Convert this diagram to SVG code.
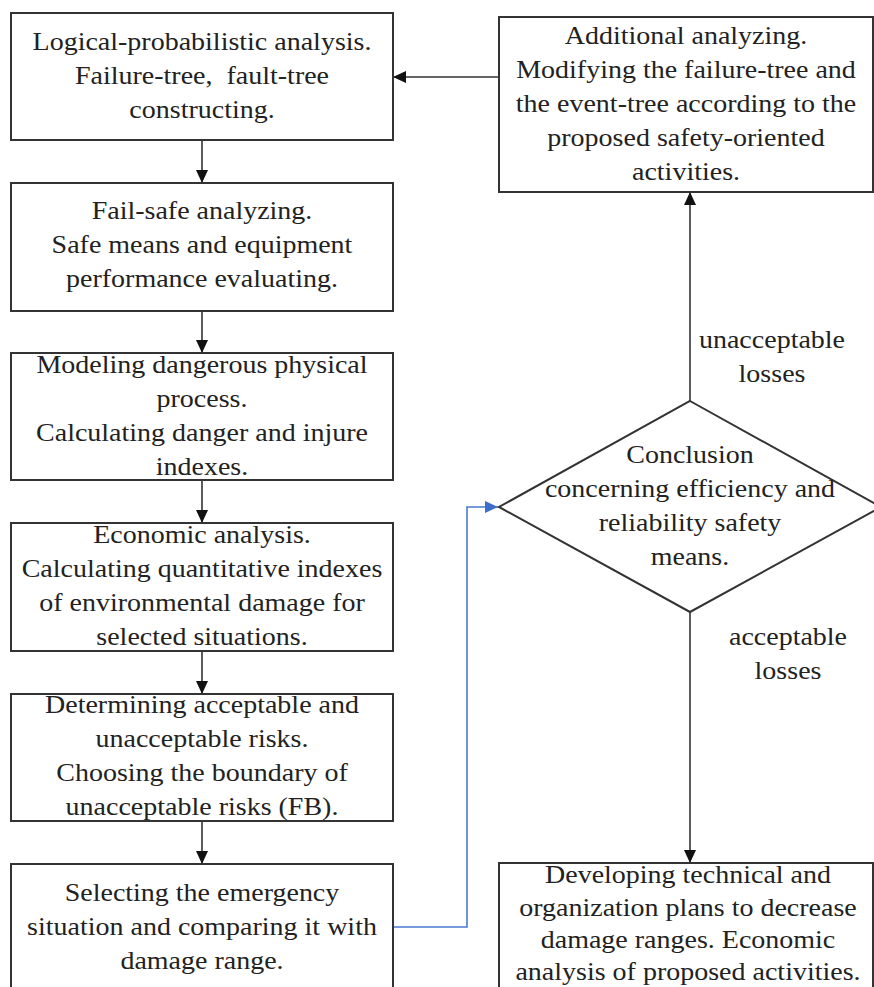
<svg xmlns="http://www.w3.org/2000/svg" width="874" height="987" viewBox="0 0 874 987">
<defs>
<style>
.box{fill:#fff;stroke:#333;stroke-width:2}
.t{font-family:"Liberation Serif","Times New Roman",serif;font-size:25px;fill:#222;text-anchor:middle}
.ln{fill:none;stroke:#333;stroke-width:1.6}
.bl{fill:none;stroke:#4a7bd0;stroke-width:1.6}
</style>
<marker id="ah" markerUnits="userSpaceOnUse" markerWidth="14" markerHeight="12" refX="13" refY="6" orient="auto"><path d="M0,0 L13,6 L0,12 z" fill="#111"/></marker>
<marker id="ahb" markerUnits="userSpaceOnUse" markerWidth="14" markerHeight="12" refX="13" refY="6" orient="auto"><path d="M0,0 L13,6 L0,12 z" fill="#3b6fcc"/></marker>
</defs>
<rect width="874" height="987" fill="#fff"/>
<g id="connectors">
<line class="ln" x1="202" y1="140" x2="202" y2="183" marker-end="url(#ah)"/>
<line class="ln" x1="202" y1="311" x2="202" y2="353" marker-end="url(#ah)"/>
<line class="ln" x1="202" y1="480" x2="202" y2="523" marker-end="url(#ah)"/>
<line class="ln" x1="202" y1="651" x2="202" y2="694" marker-end="url(#ah)"/>
<line class="ln" x1="202" y1="821" x2="202" y2="864" marker-end="url(#ah)"/>
<line class="ln" x1="499" y1="77" x2="393" y2="77" marker-end="url(#ah)"/>
<line class="ln" x1="690" y1="401" x2="690" y2="192" marker-end="url(#ah)"/>
<line class="ln" x1="690" y1="612" x2="690" y2="863" marker-end="url(#ah)"/>
<polyline class="bl" points="393,927 467,927 467,507 498,507" marker-end="url(#ahb)"/>
<g id="label-unacceptable"><text class="t" transform="translate(772 0) scale(1.12 1)"><tspan x="0" y="348">unacceptable</tspan><tspan x="0" y="382">losses</tspan></text></g>
<g id="label-acceptable"><text class="t" transform="translate(788 0) scale(1.12 1)"><tspan x="0" y="645">acceptable</tspan><tspan x="0" y="679">losses</tspan></text></g>
</g>
<g id="n1"><rect class="box" x="11" y="13" width="382" height="127"/>
<text class="t" transform="translate(202 0) scale(1.12 1)"><tspan x="0" y="50">Logical-probabilistic analysis.</tspan><tspan x="0" y="84">Failure-tree,&#160; fault-tree</tspan><tspan x="0" y="118">constructing.</tspan></text></g>
<g id="n2"><rect class="box" x="11" y="183" width="382" height="128"/>
<text class="t" transform="translate(202 0) scale(1.12 1)"><tspan x="0" y="219">Fail-safe analyzing.</tspan><tspan x="0" y="253">Safe means and equipment</tspan><tspan x="0" y="287">performance evaluating.</tspan></text></g>
<g id="n3"><rect class="box" x="11" y="353" width="382" height="127"/>
<text class="t" transform="translate(202 0) scale(1.12 1)"><tspan x="0" y="373">Modeling dangerous physical</tspan><tspan x="0" y="407">process.</tspan><tspan x="0" y="441">Calculating danger and injure</tspan><tspan x="0" y="475">indexes.</tspan></text></g>
<g id="n4"><rect class="box" x="11" y="523" width="382" height="128"/>
<text class="t" transform="translate(202 0) scale(1.12 1)"><tspan x="0" y="543">Economic analysis.</tspan><tspan x="0" y="577">Calculating quantitative indexes</tspan><tspan x="0" y="611">of environmental damage for</tspan><tspan x="0" y="645">selected situations.</tspan></text></g>
<g id="n5"><rect class="box" x="11" y="694" width="382" height="127"/>
<text class="t" transform="translate(202 0) scale(1.12 1)"><tspan x="0" y="713">Determining acceptable and</tspan><tspan x="0" y="747">unacceptable risks.</tspan><tspan x="0" y="781">Choosing the boundary of</tspan><tspan x="0" y="815">unacceptable risks (FB).</tspan></text></g>
<g id="n6"><rect class="box" x="11" y="864" width="382" height="128"/>
<text class="t" transform="translate(202 0) scale(1.12 1)"><tspan x="0" y="901">Selecting the emergency</tspan><tspan x="0" y="935">situation and comparing it with</tspan><tspan x="0" y="969">damage range.</tspan></text></g>
<g id="n7"><rect class="box" x="499" y="17" width="374" height="175"/>
<text class="t" transform="translate(686 0) scale(1.12 1)"><tspan x="0" y="44">Additional analyzing.</tspan><tspan x="0" y="78">Modifying the failure-tree and</tspan><tspan x="0" y="112">the event-tree according to the</tspan><tspan x="0" y="146">proposed safety-oriented</tspan><tspan x="0" y="180">activities.</tspan></text></g>
<g id="n8"><polygon class="box" points="690,401 881,507 690,612 499,507"/>
<text class="t" transform="translate(690 0) scale(1.12 1)"><tspan x="0" y="463">Conclusion</tspan><tspan x="0" y="497">concerning efficiency and</tspan><tspan x="0" y="531">reliability safety</tspan><tspan x="0" y="565">means.</tspan></text></g>
<g id="n9"><rect class="box" x="499" y="863" width="374" height="140"/>
<text class="t" transform="translate(688 0) scale(1.12 1)"><tspan x="0" y="883">Developing technical and</tspan><tspan x="0" y="916">organization plans to decrease</tspan><tspan x="0" y="948">damage ranges. Economic</tspan><tspan x="0" y="980">analysis of proposed activities.</tspan></text></g>
</svg>
